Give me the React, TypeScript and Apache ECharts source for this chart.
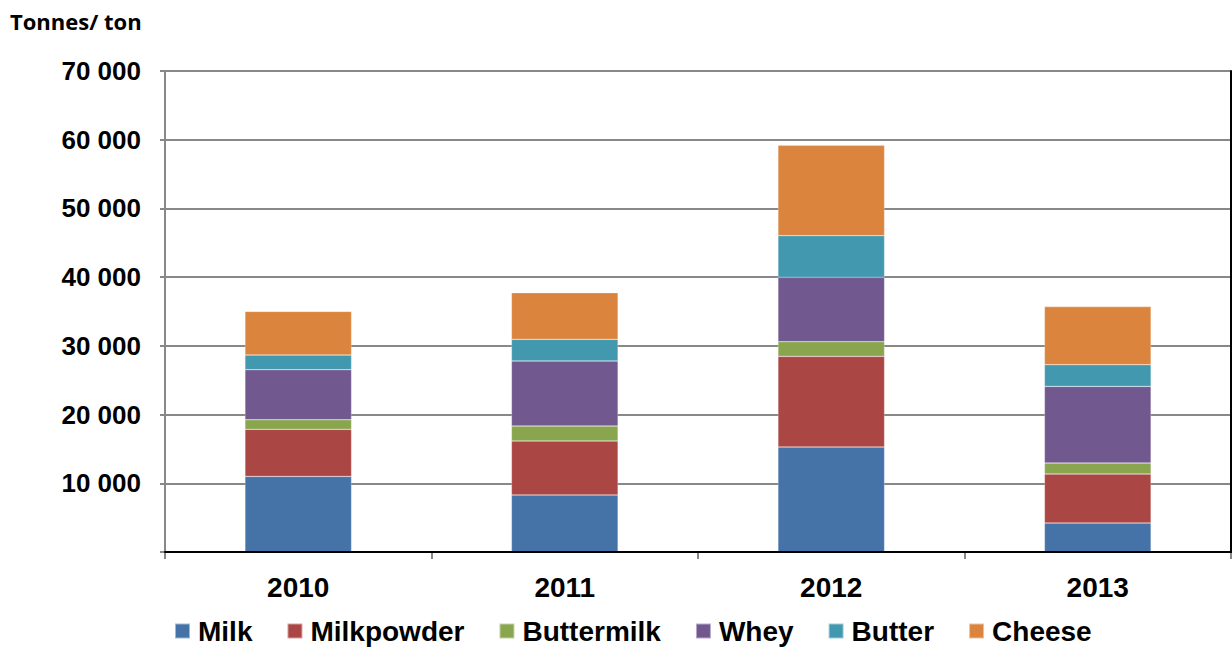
import React, { useEffect, useRef } from "react";
import * as echarts from "echarts";

const years = ["2010", "2011", "2012", "2013"];
const milk = [11000, 8300, 15280, 4220];
const milkpowder = [6850, 7860, 13190, 7130];
const buttermilk = [1400, 2180, 2140, 1600];
const whey = [7280, 9460, 9360, 11150];
const butter = [2130, 3150, 6070, 3160];
const cheese = [6350, 6790, 13140, 8450];

const seriesNames = ["Milk", "Milkpowder", "Buttermilk", "Whey", "Butter", "Cheese"];
const seriesData = [milk, milkpowder, buttermilk, whey, butter, cheese];
const colors = ["#4572A7", "#AA4643", "#89A54E", "#71588F", "#4198AF", "#DB843D"];

const fmt = (v: number) => (v === 0 ? "" : String(v).replace(/\B(?=(\d{3})+(?!\d))/g, " "));

export default function App() {
  const ref = useRef<HTMLDivElement>(null);
  useEffect(() => {
    if (!ref.current) return;
    const chart = echarts.init(ref.current, undefined, { renderer: "svg" });
    chart.setOption({
      animation: false,
      color: colors,
      textStyle: { fontFamily: "Liberation Sans, Arial, sans-serif" },
      graphic: [
        {
          type: "text",
          left: 10,
          top: 10,
          style: {
            text: "Tonnes/ ton",
            font: "bold 22px 'Open Sans', sans-serif",
            fill: "#000",
          },
        },
      ],
      legend: {
        data: seriesNames,
        left: 174,
        top: 616,
        padding: 0,
        icon: "rect",
        itemWidth: 15,
        itemHeight: 15,
        itemGap: 34,
        textStyle: {
          fontSize: 28,
          lineHeight: 30,
          fontWeight: "bold",
          color: "#000",
          fontFamily: "Liberation Sans, Arial, sans-serif",
          padding: [0, 0, 0, 3],
        },
      },
      grid: { left: 165, right: 1, top: 71, bottom: 96, containLabel: false },
      xAxis: [
        {
          type: "category",
          data: years,
          axisLine: { lineStyle: { color: "#888", width: 2 } },
          axisTick: { show: true, length: 7, lineStyle: { color: "#888", width: 2 } },
          axisLabel: {
            fontSize: 28,
            fontWeight: "bold",
            color: "#000",
            margin: 21,
          },
        },
        {
          type: "category",
          position: "top",
          data: years,
          z: 10,
          axisLine: { show: true, lineStyle: { color: "#000", width: 2 } },
          axisTick: { show: false },
          axisLabel: { show: false },
        },
      ],
      yAxis: [
        {
          type: "value",
          min: 0,
          max: 70000,
          interval: 10000,
          axisLine: { show: true, lineStyle: { color: "#888", width: 2 } },
          axisTick: { show: true, length: 5, lineStyle: { color: "#888", width: 2 } },
          splitLine: { show: true, lineStyle: { color: "#888", width: 2 } },
          axisLabel: {
            formatter: fmt,
            fontSize: 26,
            fontWeight: "bold",
            color: "#000",
            margin: 24,
          },
        },
        {
          type: "value",
          position: "right",
          min: 0,
          max: 70000,
          interval: 10000,
          z: 10,
          axisLine: { show: true, lineStyle: { color: "#000", width: 2 } },
          axisTick: { show: false },
          splitLine: { show: false },
          axisLabel: { show: false },
        },
      ],
      series: seriesNames.map((name, i) => ({
        name,
        type: "bar",
        stack: "total",
        barWidth: "40%",
        data: seriesData[i],
        itemStyle: { color: colors[i], borderColor: "rgba(255,255,255,0.5)", borderWidth: 0.5 },
      })),
    });
    return () => chart.dispose();
  }, []);
  return <div ref={ref} style={{ width: 1232, height: 648, position: "absolute", left: 0, top: 0 }} />;
}
